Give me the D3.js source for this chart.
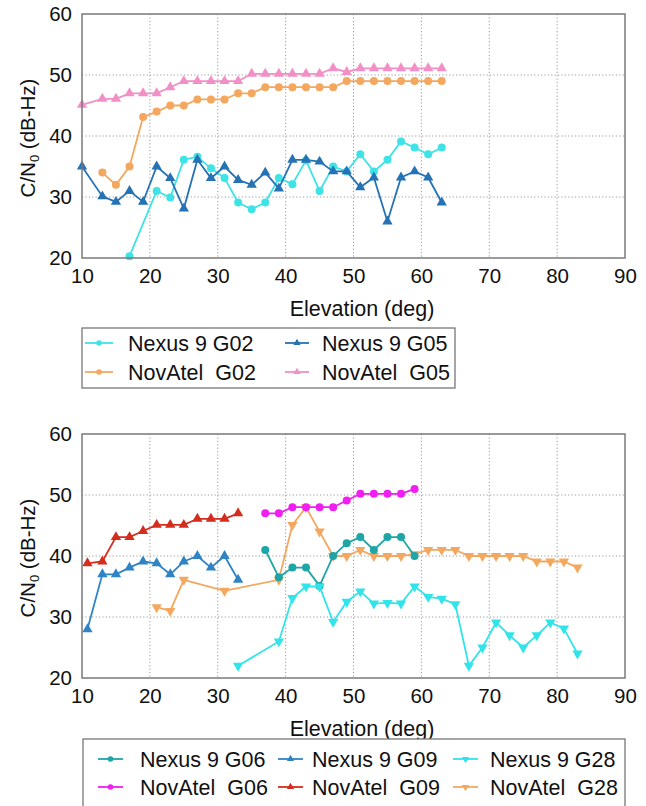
<!DOCTYPE html>
<html>
<head>
<meta charset="utf-8">
<script src="https://cdn.jsdelivr.net/npm/d3@7"></script>
<style>
  body { margin: 0; background: #fff; }
  svg { display: block; font-family: "Liberation Sans", Arial, sans-serif; }
</style>
</head>
<body>
<div id="graph"></div>
<script>
// x ticks / y ticks shared by both panels
var xTicks = [10, 20, 30, 40, 50, 60, 70, 80, 90];
var yTicks = [20, 30, 40, 50, 60];

// top panel: G02 and G05
var elevNexusG02 = [17,21,23,25,27,29,31,33,35,37,39,41,43,45,47,49,51,53,55,57,59,61,63];
var cn0NexusG02  = [20.3,31,29.9,36.1,36.6,34.7,33.1,29.1,28,29.1,33.1,32.1,36,31,35,34.2,37,34.2,36.1,39.1,38.1,37,38.1];
var elevNexusG05 = [10,13,15,17,19,21,23,25,27,29,31,33,35,37,39,41,43,45,47,49,51,53,55,57,59,61,63];
var cn0NexusG05  = [35,30.1,29.2,31,29.2,35,33.1,28.1,36.1,33.1,35,32.8,32,34,31.4,36.1,36.1,35.8,34.2,34.2,31.6,33.2,26,33.2,34.2,33.2,29.1];
var elevNovG02   = [13,15,17,19,21,23,25,27,29,31,33,35,37,39,41,43,45,47,49,51,53,55,57,59,61,63];
var cn0NovG02    = [34,32,35,43.1,44,45,45,46,46,46,47,47,48,48,48,48,48,48,49,49,49,49,49,49,49,49];
var elevNovG05   = [10,13,15,17,19,21,23,25,27,29,31,33,35,37,39,41,43,45,47,49,51,53,55,57,59,61,63];
var cn0NovG05    = [45.1,46.1,46.1,47,47,47,48,49,49,49,49,49,50.2,50.2,50.2,50.2,50.2,50.2,51.1,50.5,51.1,51.1,51.1,51.1,51.1,51.1,51.1];

// bottom panel: G06, G09, G28
var elevNexusG06 = [37,39,41,43,45,47,49,51,53,55,57,59];
var cn0NexusG06  = [41,36.5,38.1,38.1,35.1,40,42.1,43.1,41,43.1,43.1,40];
var elevNexusG09 = [10.8,13,15,17,19,21,23,25,27,29,31,33];
var cn0NexusG09  = [28,37,37,38.1,39.1,38.8,37,39.1,40,38.1,40,36.1];
var elevNexusG28 = [33,39,41,43,45,47,49,51,53,55,57,59,61,63,65,67,69,71,73,75,77,79,81,83];
var cn0NexusG28  = [22,26,33.1,35,35,29.2,32.5,34.2,32.2,32.3,32.2,35,33.3,33,32.1,22,25,29.1,27,25,27,29.1,28.1,24];
var elevNovG06   = [37,39,41,43,45,47,49,51,53,55,57,59];
var cn0NovG06    = [47,47,48,48,48,48,49.1,50.2,50.2,50.2,50.2,51];
var elevNovG09   = [10.8,13,15,17,19,21,23,25,27,29,31,33];
var cn0NovG09    = [38.8,39.1,43.1,43.1,44.1,45.1,45.1,45.1,46.1,46.1,46.1,47];
var elevNovG28   = [21,23,25,31,39,41,43,45,47,49,51,53,55,57,59,61,63,65,67,69,71,73,75,77,79,81,83];
var cn0NovG28    = [31.6,31,36.1,34.3,36.1,45.1,48,44,40,40,41,40,40,40,40.3,41,41,41,40,40,40,40,40,39.1,39.1,39.1,38.1];

function zip(xs, ys) { return xs.map((x, i) => ({x: x, y: ys[i]})); }

var W = 646, H = 806;
var svg = d3.select("#graph").append("svg")
    .attr("width", W)
    .attr("height", H);

var left = 82, right = 625;

var topPanel = {
    top: 14, bottom: 258,
    series: [
        {name: "Nexus 9 G02", data: zip(elevNexusG02, cn0NexusG02), color: "#3fe3e6", mark: "circle"},
        {name: "NovAtel  G02", data: zip(elevNovG02, cn0NovG02), color: "#f4a75e", mark: "circle"},
        {name: "Nexus 9 G05", data: zip(elevNexusG05, cn0NexusG05), color: "#2572b4", mark: "up"},
        {name: "NovAtel  G05", data: zip(elevNovG05, cn0NovG05), color: "#f28fc6", mark: "up"}
    ],
    // legend order: rows of series indexes
    legend: {box: [82, 328, 455, 388], rows: [343, 372],
        cols: [{line: [85, 113], text: 128}, {line: [285, 309], text: 322}],
        items: [[0, 2], [1, 3]]}
};

var bottomPanel = {
    top: 434, bottom: 678,
    series: [
        {name: "NovAtel  G09", data: zip(elevNovG09, cn0NovG09), color: "#d42d1d", mark: "up"},
        {name: "Nexus 9 G09", data: zip(elevNexusG09, cn0NexusG09), color: "#2f84c6", mark: "up"},
        {name: "NovAtel  G28", data: zip(elevNovG28, cn0NovG28), color: "#f4a75e", mark: "down"},
        {name: "NovAtel  G06", data: zip(elevNovG06, cn0NovG06), color: "#f01ef0", mark: "circle"},
        {name: "Nexus 9 G06", data: zip(elevNexusG06, cn0NexusG06), color: "#1ea5a5", mark: "circle"},
        {name: "Nexus 9 G28", data: zip(elevNexusG28, cn0NexusG28), color: "#30e4ea", mark: "down"}
    ],
    legend: {box: [83, 739, 625, 830], rows: [759, 787],
        cols: [{line: [98, 123], text: 140}, {line: [278, 303], text: 312}, {line: [453, 478], text: 490}],
        items: [[4, 1, 5], [3, 0, 2]]}
};

function drawMark(g, mark, color, x, y, scale) {
    if (mark === "circle") {
        g.append("circle").attr("cx", x).attr("cy", y).attr("r", 4 * scale)
            .attr("fill", color);
    } else {
        g.append("path")
            .attr("d", d3.symbol().type(d3.symbolTriangle).size(46 * scale * scale)())
            .attr("transform", "translate(" + x + "," + y + ")" + (mark === "down" ? " rotate(180)" : ""))
            .attr("fill", color);
    }
}

function drawPanel(p) {
    var x = d3.scaleLinear().domain([10, 90]).range([left, right]);
    var y = d3.scaleLinear().domain([20, 60]).range([p.bottom, p.top]);
    var g = svg.append("g");

    // dotted grid
    g.selectAll(".gx").data(xTicks.slice(1, -1)).enter().append("line")
        .attr("x1", d => x(d)).attr("x2", d => x(d))
        .attr("y1", p.top).attr("y2", p.bottom)
        .attr("stroke", "#9a9a9a").attr("stroke-width", 1).attr("stroke-dasharray", "1.2,2.2");
    g.selectAll(".gy").data(yTicks.slice(1, -1)).enter().append("line")
        .attr("y1", d => y(d)).attr("y2", d => y(d))
        .attr("x1", left).attr("x2", right)
        .attr("stroke", "#9a9a9a").attr("stroke-width", 1).attr("stroke-dasharray", "1.2,2.2");

    // series
    var line = d3.line().x(d => x(d.x)).y(d => y(d.y));
    p.series.forEach(s => {
        g.append("path").datum(s.data)
            .attr("d", line)
            .attr("fill", "none")
            .attr("stroke", s.color)
            .attr("stroke-width", 1.8);
        s.data.forEach(d => drawMark(g, s.mark, s.color, x(d.x), y(d.y), 1));
    });

    // frame
    g.append("rect")
        .attr("x", left).attr("y", p.top)
        .attr("width", right - left).attr("height", p.bottom - p.top)
        .attr("fill", "none").attr("stroke", "#7a7a7a").attr("stroke-width", 1.5);

    // axes (labels only)
    var xa = g.append("g")
        .attr("transform", "translate(0," + p.bottom + ")")
        .call(d3.axisBottom(x).tickValues(xTicks).tickSize(0).tickPadding(10));
    var ya = g.append("g")
        .attr("transform", "translate(" + left + ",0)")
        .call(d3.axisLeft(y).tickValues(yTicks).tickSize(0).tickPadding(10));
    [xa, ya].forEach(a => {
        a.select(".domain").remove();
        a.attr("font-size", 20.5).attr("font-family", "'Liberation Sans', Arial, sans-serif");
        a.selectAll("text").attr("fill", "#111");
    });

    // axis titles
    g.append("text")
        .attr("x", 362).attr("y", p.bottom + 58)
        .attr("text-anchor", "middle")
        .attr("font-size", 21.5).attr("fill", "#111")
        .text("Elevation (deg)");
    var yt = g.append("text")
        .attr("transform", "translate(35," + ((p.top + p.bottom) / 2 + 2) + ") rotate(-90)")
        .attr("text-anchor", "middle")
        .attr("font-size", 20.5).attr("fill", "#111");
    yt.append("tspan").text("C/N");
    yt.append("tspan").attr("font-size", 13).attr("dy", 4).text("0");
    yt.append("tspan").attr("dy", -4).text(" (dB-Hz)");

    // legend
    var L = p.legend;
    var lg = svg.append("g");
    lg.append("rect")
        .attr("x", L.box[0]).attr("y", L.box[1])
        .attr("width", L.box[2] - L.box[0]).attr("height", L.box[3] - L.box[1])
        .attr("fill", "#fff").attr("stroke", "#777").attr("stroke-width", 1.3);
    L.items.forEach((row, ri) => {
        row.forEach((si, ci) => {
            var s = p.series[si], c = L.cols[ci], yy = L.rows[ri];
            lg.append("line")
                .attr("x1", c.line[0]).attr("x2", c.line[1])
                .attr("y1", yy).attr("y2", yy)
                .attr("stroke", s.color).attr("stroke-width", 1.8);
            drawMark(lg, s.mark, s.color, (c.line[0] + c.line[1]) / 2, yy, 0.7);
            lg.append("text")
                .attr("x", c.text).attr("y", yy + 7.5)
                .attr("font-size", 21.5).attr("fill", "#111")
                .attr("xml:space", "preserve")
                .style("white-space", "pre")
                .text(s.name);
        });
    });
}

drawPanel(topPanel);
drawPanel(bottomPanel);
</script>
</body>
</html>
